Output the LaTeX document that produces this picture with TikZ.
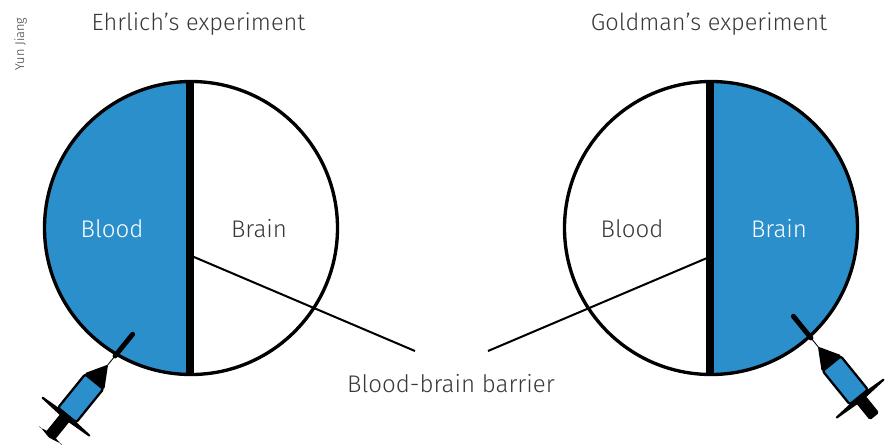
\documentclass[tikz,border=0pt]{standalone}
\usepackage{fontspec}
\setmainfont{Fira Sans Light}
\usepackage{xcolor}
\definecolor{bloodblue}{HTML}{2A8FCB}
\definecolor{labelgrey}{HTML}{383838}
\tikzset{
    label text/.style={text=labelgrey, font=\fontsize{13.7}{16}\selectfont, inner sep=0pt},
    title text/.style={text=labelgrey, font=\fontsize{13.4}{17}\selectfont, inner sep=0pt},
    outline/.style={line width=1.9pt, black},
    barrier/.style={line width=4.8pt, black},
    pointer/.style={line width=1.15pt, black},
    pics/syringe/.style={code={
        \draw[line width=2.8pt, line cap=round] (0,0) -- (28,0);
        \draw[line width=0.5pt] (-14,0) -- (0,0);
        \fill[rounded corners=1pt] (-11,0) -- (-33,13) -- (-33,-13) -- cycle;
        \fill[rounded corners=0.5pt] (-77,31) -- (-75,0) -- (-77,-31) -- (-79,-31) -- (-81,0) -- (-79,31) -- cycle;
        \fill[rounded corners=1pt] (-78,6) rectangle (-#1,-6);
        \draw[fill=bloodblue, line width=1.3pt, rounded corners=1.2pt] (-33,11.7) rectangle (-76,-11.7);
    }},
    pics/syringecap/.style={code={
        \fill[rounded corners=0.5pt] (-102,14) -- (-105,0) -- (-102,-14) -- (-103,-15) -- (-100,0) -- (-103,15) -- cycle;
    }}
}
\begin{document}
\begin{tikzpicture}
    \useasboundingbox (0,0) rectangle (17.7,8.88);
    % --------
    % Left half
    % --------
    \fill[bloodblue] (3.82,7.25) arc (90:270:2.93) -- cycle;
    \draw[outline] (3.82,4.32) circle (2.93);
    \draw[barrier] (3.8,7.28) -- (3.8,1.36);
    \node[label text, text=white] at (2.24,4.3) (bloodleft) {Blood};
    \node[label text] at (5.18,4.3) (brainleft) {Brain};
    \node[title text] at (3.97,8.4) (ehrlich) {Ehrlich’s experiment};
    \node[text=labelgrey, font=\fontsize{7.3}{8}\selectfont, rotate=90, inner sep=0pt] at (0.41,8.0) (credit) {Yun Jiang};
    \pic[shift={(2.30,1.76)}, rotate=51, scale=0.02] {syringe=103};
    \pic[shift={(2.30,1.76)}, rotate=51, scale=0.02] {syringecap};
    % --------
    % Right half
    % --------
    \fill[bloodblue] (14.22,7.25) arc (90:-90:2.93) -- cycle;
    \draw[outline] (14.22,4.32) circle (2.93);
    \draw[barrier] (14.2,7.28) -- (14.2,1.36);
    \node[label text] at (12.64,4.3) (bloodright) {Blood};
    \node[label text, text=white] at (15.58,4.3) (brainright) {Brain};
    \node[title text] at (14.18,8.4) (goldman) {Goldman’s experiment};
    \pic[shift={(16.22,2.12)}, rotate=129, scale=0.02] {syringe=101};
    % --------
    % Barrier label
    % --------
    \node[label text] at (9.02,1.2) (bbb) {Blood-brain barrier};
    \coordinate (leftwall) at (3.88,3.74);
    \coordinate (leftend) at (8.3,1.86);
    \coordinate (rightwall) at (14.14,3.72);
    \coordinate (rightend) at (9.76,1.86);
    % Draw line
    \draw[pointer] (leftwall) -- (leftend);
    \draw[pointer] (rightwall) -- (rightend);
\end{tikzpicture}
\end{document}
